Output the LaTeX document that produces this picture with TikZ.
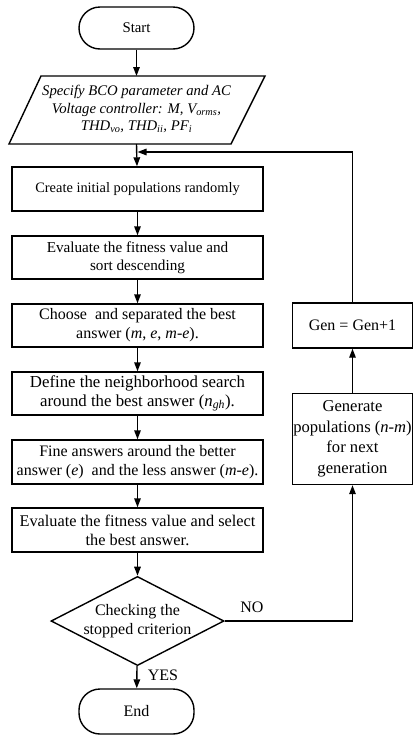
\documentclass[tikz,border=0pt]{standalone}
\usepackage{fontspec}
\setmainfont{Liberation Serif}
\usetikzlibrary{shapes.geometric,arrows.meta}
\begin{document}
\begin{tikzpicture}[x=1pt,y=-1pt,line width=1.4pt,
  every node/.style={font=\fontsize{16}{19}\selectfont},
  procbox/.style={draw,rectangle,minimum width=251pt,inner sep=0pt,align=center},
  sidebox/.style={draw,rectangle,minimum width=120pt,inner sep=0pt,align=center},
  term/.style={draw,rectangle,rounded corners=21pt,minimum width=115pt,inner sep=0pt},
  decide/.style={draw,diamond,aspect=1.94,minimum width=171pt,minimum height=88pt,inner sep=0pt,align=center},
  arr/.style={-{Triangle[length=9pt,width=6.5pt]}},
  lbl/.style={inner sep=0pt}]
\useasboundingbox (0,0) rectangle (413,737);
% terminals
\node[term,minimum height=42pt,font=\fontsize{14.8}{17}\selectfont] (start) at (136.5,28) {Start};
\node[term,minimum height=45pt] (end) at (136.5,711.5) {End};
% parallelogram
\coordinate (ptl) at (41,76);
\coordinate (ptr) at (265,76);
\coordinate (pbr) at (231,144);
\coordinate (pbl) at (9,144);
\draw (ptl) -- (ptr) -- (pbr) -- (pbl) -- cycle;
\coordinate (spectop) at (136.5,76);
\coordinate (specbot) at (136.5,144);
\node[align=center,inner sep=0pt,font=\fontsize{14.7}{17.5}\selectfont\itshape] (spec) at (136.5,109)
  {Specify BCO parameter and AC\\ Voltage controller: M, V\textsubscript{orms},\\ THD\textsubscript{vo}, THD\textsubscript{ii}, PF\textsubscript{i}};
% process boxes
\node[procbox,minimum height=44pt,font=\fontsize{14.4}{17}\selectfont] (b1) at (137.5,189) {Create initial populations randomly};
\node[procbox,minimum height=43pt,font=\fontsize{15.2}{18}\selectfont] (b2) at (137.5,257.5) {Evaluate the fitness value and\\ sort descending};
\node[procbox,minimum height=43pt] (b3) at (137.5,325.5) {Choose\ \ and separated the best\\ answer (\textit{m}, \textit{e}, \textit{m}-\textit{e}).};
\node[procbox,minimum height=43pt,font=\fontsize{16.8}{18.5}\selectfont] (b4) at (137.5,393.5) {Define the neighborhood search\\ around the best answer (\textit{n}\textsubscript{\textit{gh}}).};
\node[procbox,minimum height=44pt] (b5) at (137.5,462) {Fine answers around the better\\ answer (\textit{e})\ \ and the less answer (\textit{m}-\textit{e}).};
\node[procbox,minimum height=44pt,font=\fontsize{16.3}{19}\selectfont] (b6) at (137.5,530) {Evaluate the fitness value and select\\ the best answer.};
\node[decide] (chk) at (137.5,621) {Checking the\\ stopped criterion};
% side boxes
\node[sidebox,minimum height=45pt] (gen) at (352.5,325.5) {Gen = Gen+1};
\node[sidebox,minimum height=91pt,font=\fontsize{16.6}{20.5}\selectfont] (genp) at (352.5,439) {Generate\\ populations (\textit{n}-\textit{m})\\ for next\\ generation};
% connectors
\draw[arr] (start) -- (spectop);
\draw[arr] (specbot) -- (b1);
\draw[arr] (b1) -- (b2);
\draw[arr] (b2) -- (b3);
\draw[arr] (b3) -- (b4);
\draw[arr] (b4) -- (b5);
\draw[arr] (b5) -- (b6);
\draw[arr] (b6) -- (chk);
\draw[arr] (chk) -- (end);
\coordinate (join) at (137.5,152);
\draw[arr] (chk.east) -| (genp.south);
\draw[arr] (genp) -- (gen);
\draw[arr] (gen.north) |- (join);
\node[lbl] (no) at (252,607) {NO};
\node[lbl] (yes) at (163,675) {YES};
\end{tikzpicture}
\end{document}
